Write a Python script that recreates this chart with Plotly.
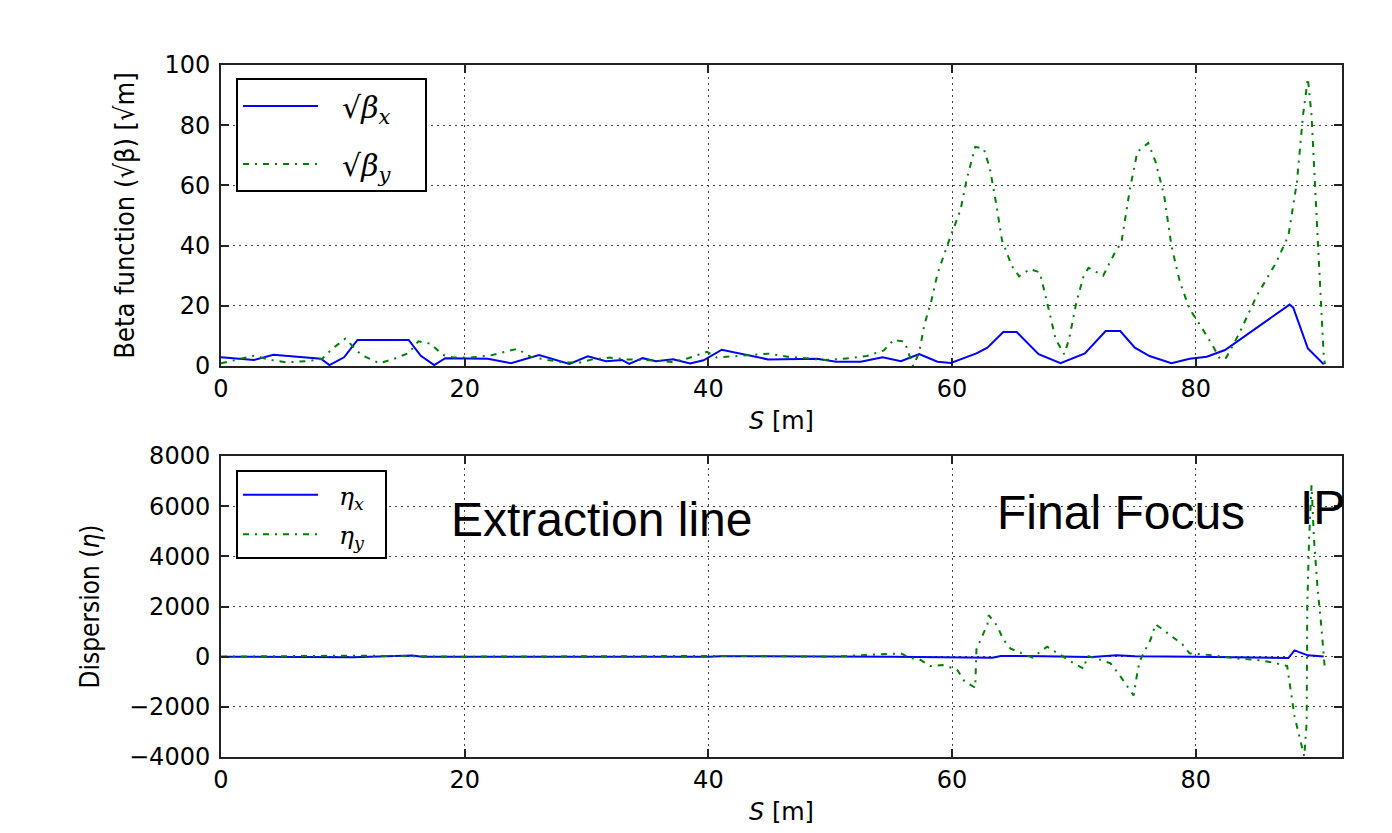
import plotly.graph_objects as go

# ---------------- data ----------------
s_beta_x = [0, 2.7, 4.3, 8.2, 8.9, 10.1, 11.2, 15.4, 16.4, 17.5, 18.4, 21.9, 23.8, 26.1,
            28.6, 30.1, 31.6, 32.9, 33.5, 34.6, 35.7, 37.1, 38.5, 39.6, 41.1, 43.2, 44.9,
            48.9, 50.5, 52.5, 54.3, 55.8, 57.3, 58.8, 59.9, 62.0, 62.9, 64.2, 65.3, 67.1,
            68.9, 70.9, 72.6, 73.8, 75.0, 76.2, 78.0, 79.5, 80.9, 82.4, 87.7, 88.0, 89.2, 90.5]
beta_x = [2.9, 2.0, 3.7, 2.4, 0.3, 2.9, 8.65, 8.65, 3.4, 0.3, 2.6, 2.4, 0.9, 3.6,
          0.7, 3.2, 1.6, 2.0, 0.7, 2.6, 1.6, 2.2, 0.8, 1.9, 5.4, 3.7, 2.2,
          2.4, 1.4, 1.4, 2.9, 1.6, 4.0, 1.4, 1.0, 4.2, 6.1, 11.3, 11.3, 3.9,
          0.9, 4.2, 11.6, 11.6, 6.1, 3.3, 0.9, 2.4, 3.1, 5.3, 20.4, 19.4, 5.8, 0.6]

s_beta_y = [0, 2.7, 4.1, 5.4, 7.3, 8.3, 9.1, 10.2, 11.5, 13.0, 14.2, 15.4, 16.2, 17.2, 18.2,
            19.1, 20.5, 22.1, 24.3, 25.4, 26.8, 28.2, 29.4, 30.5, 31.9, 33.3, 35.2, 37.1,
            38.2, 39.9, 40.7, 42.3, 44.9, 46.5, 49.5, 51.1, 53.0, 54.4, 55.2, 56.1, 56.8,
            57.3, 57.7, 58.3, 58.8, 59.6, 60.7, 61.2, 61.9, 62.6, 63.1, 63.6, 64.1, 64.9,
            65.5, 66.4, 67.2, 67.8, 68.5, 69.2, 69.6, 70.2, 70.8, 71.2, 72.4, 73.3, 73.9,
            74.6, 75.2, 76.1, 76.7, 77.4, 78.0, 78.7, 79.5, 80.4, 81.4, 82.0, 82.5, 83.6,
            85.0, 86.6, 87.6, 88.3, 88.8, 89.2, 89.5, 89.8, 90.1, 90.3, 90.5, 90.6]
beta_y = [0.9, 3.4, 2.0, 1.2, 1.7, 2.4, 5.6, 9.1, 3.7, 0.9, 2.4, 4.3, 8.2, 7.4, 3.7,
          2.8, 2.8, 3.5, 5.7, 3.1, 2.0, 1.2, 1.1, 2.2, 2.8, 2.2, 1.9, 1.3,
          2.4, 4.7, 2.8, 3.3, 4.1, 3.1, 2.0, 2.4, 3.3, 5.2, 8.7, 8.1, 0.0,
          4.4, 13.3, 21.7, 30.6, 40.0, 52.0, 62.0, 72.8, 72.2, 65.6, 54.4, 41.7, 33.3,
          29.8, 32.2, 31.1, 21.1, 8.9, 3.9, 8.9, 21.1, 30.0, 32.6, 30.0, 37.2, 41.1,
          58.9, 71.1, 74.1, 67.8, 56.7, 40.0, 27.8, 18.9, 13.3, 6.7, 2.2, 2.8, 11.1,
          23.3, 34.4, 43.3, 61.1, 83.3, 95.6, 83.3, 58.9, 33.3, 16.7, 3.3, 0.6]

s_eta_x = [0, 10.8, 15.7, 16.5, 40.0, 41.0, 55.0, 62.5, 63.3, 64.0, 65.0, 66.6, 67.5, 70.0,
           71.5, 73.5, 75.0, 80.0, 85.0, 87.6, 88.1, 89.2, 90.5]
eta_x = [0, -20, 50, 0, 0, 20, 0, -50, -40, 30, 20, 0, 20, 0,
         -10, 60, 20, 0, -30, -53, 253, 53, 10]

s_eta_y = [0, 10.8, 20.0, 41.0, 50.0, 55.8, 56.5, 57.3, 58.2, 59.2, 60.4, 61.0, 61.9, 62.0,
           62.9, 63.0, 63.7, 64.2, 64.8, 66.6, 67.8, 68.9, 70.0, 70.8, 71.1, 71.9, 73.0,
           73.8, 74.9, 75.2, 75.4, 76.3, 76.7, 77.8, 78.9, 79.5, 80.6, 82.3, 83.6, 85.0,
           86.4, 87.5, 87.7, 88.1, 88.5, 88.9, 89.1, 89.15, 89.3, 89.5, 89.7, 90.0, 90.3,
           90.5, 90.6]
eta_y = [0, 40, 0, 30, 0, 130, -50, -100, -373, -333, -507, -973, -1240, 293,
         1293, 1653, 1227, 693, 320, -40, 400, 53, -267, -480, 27, -80, -267,
         -773, -1547, -640, -173, 693, 1293, 893, 493, 133, 93, 0, -80, -133,
         -240, -373, -1040, -2373, -3173, -3973, -2640, 2027, 4693, 6827, 4693, 2693, 1227,
         27, -533]

x_ticks = [0, 20, 40, 60, 80]
beta_ticks = [0, 20, 40, 60, 80, 100]
eta_ticks = [-4000, -2000, 0, 2000, 4000, 6000, 8000]

region_labels = ["Extraction line", "Final Focus", "IP"]
region_x = [18.7, 63.5, 88.4]
region_y = [5480, 5740, 5940]

# ---------------- styling ----------------
OFF = 8                      # page body margin
W, H = 1392 - OFF, 833 - OFF
PL, PR, PT, PB = 221 - OFF, 1342 - OFF, 65 - OFF, 757 - OFF   # plot area in figure px
ML, MR, MT, MB = PL, W - PR, PT, H - PB
plot_w = PR - PL
plot_h = PB - PT

BLUE = "#0000ff"
GREEN = "#008000"
DASHDOT = "6px,6px,2px,6px"
TICKFONT = dict(family="DejaVu Sans", size=24, color="black")
TITLE_FAMILY = "Liberation Sans Narrow, DejaVu Sans Condensed, Open Sans"
NB = "&nbsp;"

fig = go.Figure()
fig.add_trace(go.Scatter(x=s_beta_x, y=beta_x, mode="lines", name=NB * 2 + "√<i>β<sub>x</sub></i>" + NB * 3,
                         line=dict(color=BLUE, width=2), xaxis="x", yaxis="y",
                         legend="legend", legendgroup="a"))
fig.add_trace(go.Scatter(x=s_beta_y, y=beta_y, mode="lines", name=NB * 2 + "√<i>β<sub>y</sub></i>" + NB * 3,
                         line=dict(color=GREEN, width=2, dash=DASHDOT), xaxis="x", yaxis="y",
                         legend="legend", legendgroup="b"))
fig.add_trace(go.Scatter(x=s_eta_x, y=eta_x, mode="lines", name=NB * 2 + "<i>η<sub>x</sub></i>" + NB * 2,
                         line=dict(color=BLUE, width=2), xaxis="x2", yaxis="y2",
                         legend="legend2", legendgroup="c"))
fig.add_trace(go.Scatter(x=s_eta_y, y=eta_y, mode="lines", name=NB * 2 + "<i>η<sub>y</sub></i>" + NB * 2,
                         line=dict(color=GREEN, width=2, dash=DASHDOT), xaxis="x2", yaxis="y2",
                         legend="legend2", legendgroup="d"))

top_dom = [(PB - (366 - OFF)) / plot_h, 1.0]
bot_dom = [0.0, (PB - (456 - OFF)) / plot_h]

axis_common = dict(showline=True, linecolor="#222", linewidth=2, mirror="ticks",
                   ticks="inside", ticklen=8, tickwidth=1.5, tickcolor="#222",
                   showgrid=True, gridcolor="#444", gridwidth=1, griddash="2px,4px",
                   zeroline=False, tickfont=TICKFONT)

xtitle = dict(text="<i>S</i> [m]", font=dict(family="DejaVu Sans", size=24, color="black"), standoff=10)

fig.update_layout(
    width=W, height=H,
    margin=dict(l=ML, r=MR, t=MT, b=MB, autoexpand=False),
    paper_bgcolor="white", plot_bgcolor="white",
    xaxis=dict(domain=[0, 1], anchor="y", range=[0, 92], tickvals=x_ticks, title=xtitle,
               ticklabelstandoff=0, **axis_common),
    yaxis=dict(domain=top_dom, anchor="x", range=[0, 100], tickvals=beta_ticks,
               ticklabelstandoff=4,
               title=dict(text="Beta function (√β) [√m]",
                          font=dict(family=TITLE_FAMILY, size=27, color="black"), standoff=22),
               **axis_common),
    xaxis2=dict(domain=[0, 1], anchor="y2", range=[0, 92], tickvals=x_ticks, title=xtitle,
                ticklabelstandoff=0, **axis_common),
    yaxis2=dict(domain=bot_dom, anchor="x2", range=[-4000, 8000], tickvals=eta_ticks,
                ticklabelstandoff=4,
                title=dict(text="Dispersion (<i>η</i>)",
                           font=dict(family=TITLE_FAMILY, size=26, color="black"), standoff=22),
                **axis_common),
    legend=dict(x=((236 - OFF) - PL) / plot_w, y=1 - ((78 - OFF) - PT) / plot_h,
                xanchor="left", yanchor="top",
                bgcolor="white", bordercolor="black", borderwidth=2,
                font=dict(family="DejaVu Serif", size=30, color="black"),
                itemwidth=75, tracegroupgap=16, traceorder="grouped"),
    legend2=dict(x=((236 - OFF) - PL) / plot_w, y=(PB - (470 - OFF)) / plot_h,
                 xanchor="left", yanchor="top",
                 bgcolor="white", bordercolor="black", borderwidth=2,
                 font=dict(family="DejaVu Serif", size=25, color="black"),
                 itemwidth=75, tracegroupgap=4, traceorder="grouped"),
    showlegend=True,
)

for txt, xv, yv in zip(region_labels, region_x, region_y):
    fig.add_annotation(text=txt, x=xv, y=yv, xref="x2", yref="y2", xanchor="left", yanchor="middle",
                       showarrow=False, font=dict(family="Liberation Sans, Arial", size=48, color="black"))

fig.write_html("out.html")
